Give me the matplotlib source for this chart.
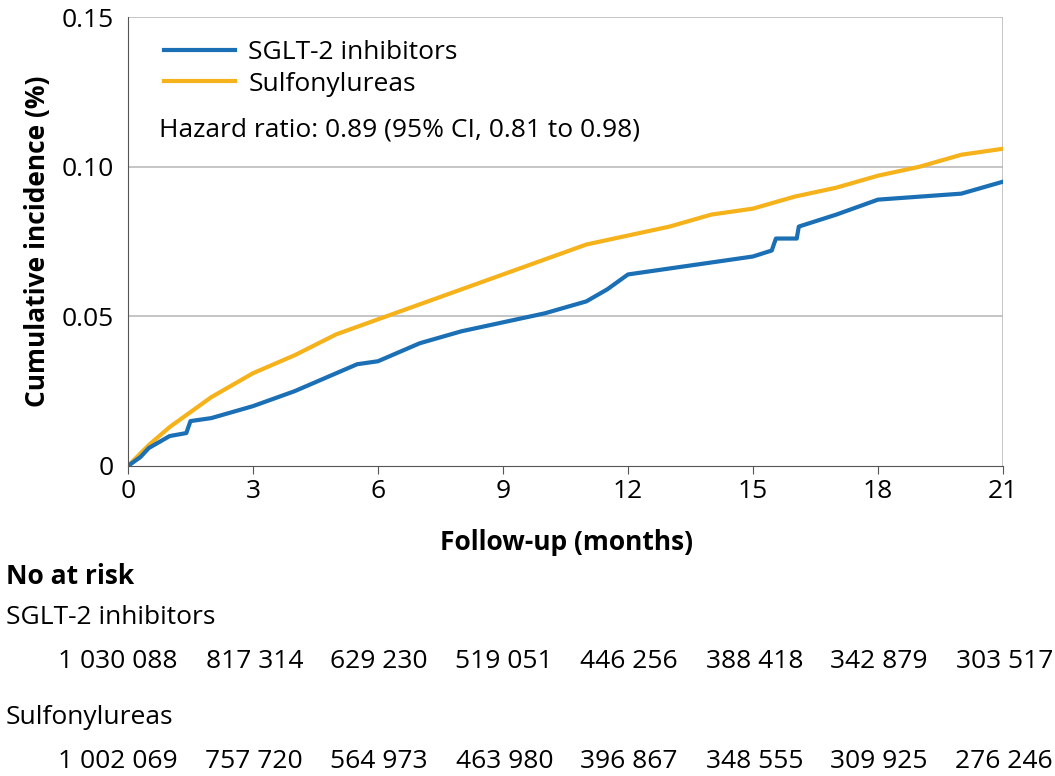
import matplotlib
matplotlib.use("Agg")
import matplotlib.pyplot as plt

plt.rcParams['font.family'] = ['Open Sans', 'DejaVu Sans']

months_sglt = [0, 0.3, 0.5, 1, 1.4, 1.5, 2, 3, 4, 5, 5.5, 6, 7, 8, 9, 10, 11, 11.5, 12, 13, 14, 15, 15.45, 15.55, 16.05, 16.1,
               17, 18, 19, 20, 21]
inc_sglt = [0, 0.003, 0.006, 0.010, 0.011, 0.015, 0.016, 0.020, 0.025, 0.031, 0.034, 0.035, 0.041, 0.045, 0.048, 0.051,
            0.055, 0.059, 0.064, 0.066, 0.068, 0.070, 0.072, 0.076, 0.076, 0.080, 0.084, 0.089, 0.090, 0.091, 0.095]
months_su = [0, 0.5, 1, 2, 3, 4, 5, 6, 7, 8, 9, 10, 11, 12, 13, 14, 15, 16, 17, 18, 19, 20, 21]
inc_su = [0, 0.007, 0.013, 0.023, 0.031, 0.037, 0.044, 0.049, 0.054, 0.059, 0.064, 0.069, 0.074, 0.077,
          0.080, 0.084, 0.086, 0.090, 0.093, 0.097, 0.100, 0.104, 0.106]

risk_times = [0, 3, 6, 9, 12, 15, 18, 21]
risk_sglt = ["1 030 088", "817 314", "629 230", "519 051", "446 256", "388 418", "342 879", "303 517"]
risk_su = ["1 002 069", "757 720", "564 973", "463 980", "396 867", "348 555", "309 925", "276 246"]

blue = "#1a6fb5"
yellow = "#f5b21b"
fs = 19

fig = plt.figure(figsize=(10.55, 7.76), dpi=100)
ax = fig.add_axes([0.1213, 0.3995, 0.8294, 0.5785])
ax.plot(months_su, inc_su, color=yellow, lw=3, label="Sulfonylureas")
ax.plot(months_sglt, inc_sglt, color=blue, lw=3, label="SGLT-2 inhibitors")
ax.set_xlim(0, 21)
ax.set_ylim(0, 0.15)
ax.set_xticks(risk_times)
ax.set_yticks([0, 0.05, 0.10, 0.15])
ax.set_yticklabels(["0", "0.05", "0.10", "0.15"])
ax.tick_params(labelsize=fs, length=6, color="#555555")
ax.tick_params(axis="y", length=0, pad=10)
for y in [0.05, 0.10, 0.15]:
    ax.axhline(y, color="#bbbbbb", lw=1.2, zorder=0)
ax.axvline(21, color="#bbbbbb", lw=1.2, zorder=0)
for s in ["top", "right"]:
    ax.spines[s].set_visible(False)
ax.spines["left"].set_color("#555555")
ax.spines["bottom"].set_color("#555555")
ax.set_ylabel("Cumulative incidence (%)", fontsize=fs, fontweight="bold", labelpad=8)

h, l = ax.get_legend_handles_labels()
ax.legend(h[::-1], l[::-1], loc="upper left", bbox_to_anchor=(0.02, 0.99), frameon=False,
          fontsize=fs, handlelength=2.7, handletextpad=0.5, borderaxespad=0.3, labelspacing=0.25)
ax.text(0.035, 0.735, "Hazard ratio: 0.89 (95% CI, 0.81 to 0.98)", transform=ax.transAxes, fontsize=fs)

def fy(px):
    return 1 - px / 776

fig.text(566 / 1055, fy(543), "Follow-up (months)", ha="center", va="center", fontsize=fs, fontweight="bold")
fig.text(6 / 1055, fy(577), "No at risk", ha="left", va="center", fontsize=fs, fontweight="bold")
fig.text(6 / 1055, fy(617), "SGLT-2 inhibitors", ha="left", va="center", fontsize=fs)
fig.text(6 / 1055, fy(718), "Sulfonylureas", ha="left", va="center", fontsize=fs)
for t, a, b in zip(risk_times, risk_sglt, risk_su):
    xpx = 128 + t / 21 * 875 + 50
    fig.text(xpx / 1055, fy(661), a, ha="right", va="center", fontsize=fs)
    fig.text(xpx / 1055, fy(761), b, ha="right", va="center", fontsize=fs)

fig.savefig("out.png", dpi=100)
